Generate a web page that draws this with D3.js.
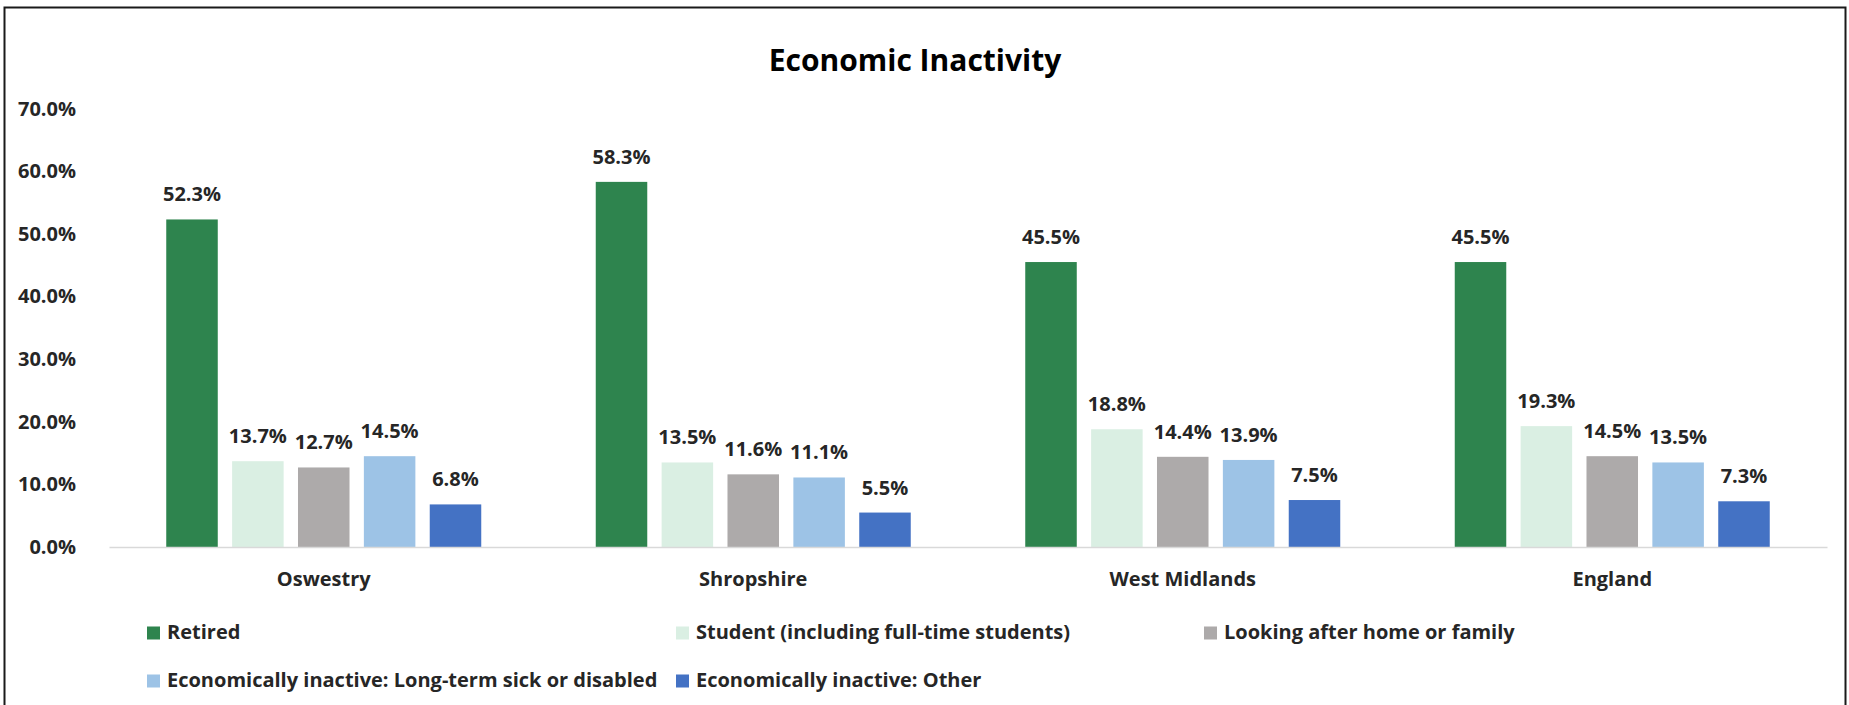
<!DOCTYPE html>
<html>
<head>
<meta charset="utf-8">
<script src="https://cdn.jsdelivr.net/npm/d3@7"></script>
<style>
  html, body { margin: 0; padding: 0; background: #fff; }
  svg { display: block; }
  text { font-family: "Open Sans", "Noto Sans", sans-serif; font-weight: 700; fill: #262626; }
</style>
</head>
<body>
<svg id="chart" width="1849" height="705"></svg>
<script>
// ---- data ----
const categories = ["Oswestry", "Shropshire", "West Midlands", "England"];
const seriesNames = [
  "Retired",
  "Student (including full-time students)",
  "Looking after home or family",
  "Economically inactive: Long-term sick or disabled",
  "Economically inactive: Other"
];
const retired   = [52.3, 58.3, 45.5, 45.5];
const student   = [13.7, 13.5, 18.8, 19.3];
const homeFamily= [12.7, 11.6, 14.4, 14.5];
const longSick  = [14.5, 11.1, 13.9, 13.5];
const other     = [6.8, 5.5, 7.5, 7.3];
const yTicks    = [0, 10, 20, 30, 40, 50, 60, 70];
const colors    = ["#2E844E", "#DAEFE3", "#ADAAAA", "#9DC3E6", "#4472C4"];

const seriesValues = [retired, student, homeFamily, longSick, other];

// ---- layout ----
const svg = d3.select("#chart");
const plot = { left: 109, right: 1827, top: 108.6, bottom: 547 };

// border
svg.append("rect")
  .attr("x", 4.5).attr("y", 7.5)
  .attr("width", 1841).attr("height", 720)
  .attr("fill", "none").attr("stroke", "#1a1a1a").attr("stroke-width", 2);

// title
svg.append("text")
  .attr("x", 915).attr("y", 71)
  .attr("text-anchor", "middle")
  .style("font-size", "30px")
  .style("fill", "#000")
  .text("Economic Inactivity");

const x0 = d3.scaleBand().domain(categories).range([plot.left, plot.right]).paddingInner(0).paddingOuter(0);
const groupWidth = 315;
const x1 = d3.scaleBand().domain(d3.range(seriesNames.length)).range([0, groupWidth]).paddingInner(0.218).paddingOuter(0);
const y = d3.scaleLinear().domain([0, 70]).range([plot.bottom, plot.top]);

// y axis
const yAxis = svg.append("g")
  .attr("transform", `translate(${plot.left},0)`)
  .call(d3.axisLeft(y).tickValues(yTicks).tickSize(0).tickPadding(33).tickFormat(d => d3.format(".1f")(d) + "%"));
yAxis.select(".domain").remove();
yAxis.selectAll("text").style("font-size", "20px").style("font-family", null).attr("fill", null);

// bars
const groups = svg.append("g").selectAll("g")
  .data(categories)
  .join("g")
  .attr("transform", d => `translate(${x0(d) + (x0.bandwidth() - groupWidth) / 2},0)`);

groups.each(function(cat, ci) {
  const g = d3.select(this);
  seriesValues.forEach((vals, si) => {
    const v = vals[ci];
    g.append("rect")
      .attr("x", x1(si))
      .attr("y", y(v))
      .attr("width", x1.bandwidth())
      .attr("height", y(0) - y(v))
      .attr("fill", colors[si]);
    g.append("text")
      .attr("x", x1(si) + x1.bandwidth() / 2)
      .attr("y", y(v) - 18)
      .attr("text-anchor", "middle")
      .style("font-size", "20px")
      .text(d3.format(".1f")(v) + "%");
  });
});

// x axis
const xAxis = svg.append("g")
  .attr("transform", `translate(0,${plot.bottom})`)
  .call(d3.axisBottom(x0).tickSize(0).tickSizeOuter(0));
xAxis.select(".domain").attr("stroke", "#d9d9d9").attr("stroke-width", 1.5);
xAxis.selectAll("text")
  .attr("y", 39).attr("dy", 0)
  .attr("fill", null)
  .style("font-size", "20px").style("font-family", null);

// legend
const legendCols = [147, 676, 1204];
const legendRows = [639, 687];
const legend = svg.append("g");
seriesNames.forEach((name, i) => {
  const col = i % 3, row = Math.floor(i / 3);
  const lx = legendCols[col], ly = legendRows[row];
  legend.append("rect")
    .attr("x", lx).attr("y", ly - 12.5)
    .attr("width", 13).attr("height", 13)
    .attr("fill", colors[i]);
  legend.append("text")
    .attr("x", lx + 20).attr("y", ly)
    .style("font-size", "20px")
    .text(name);
});
</script>
</body>
</html>
